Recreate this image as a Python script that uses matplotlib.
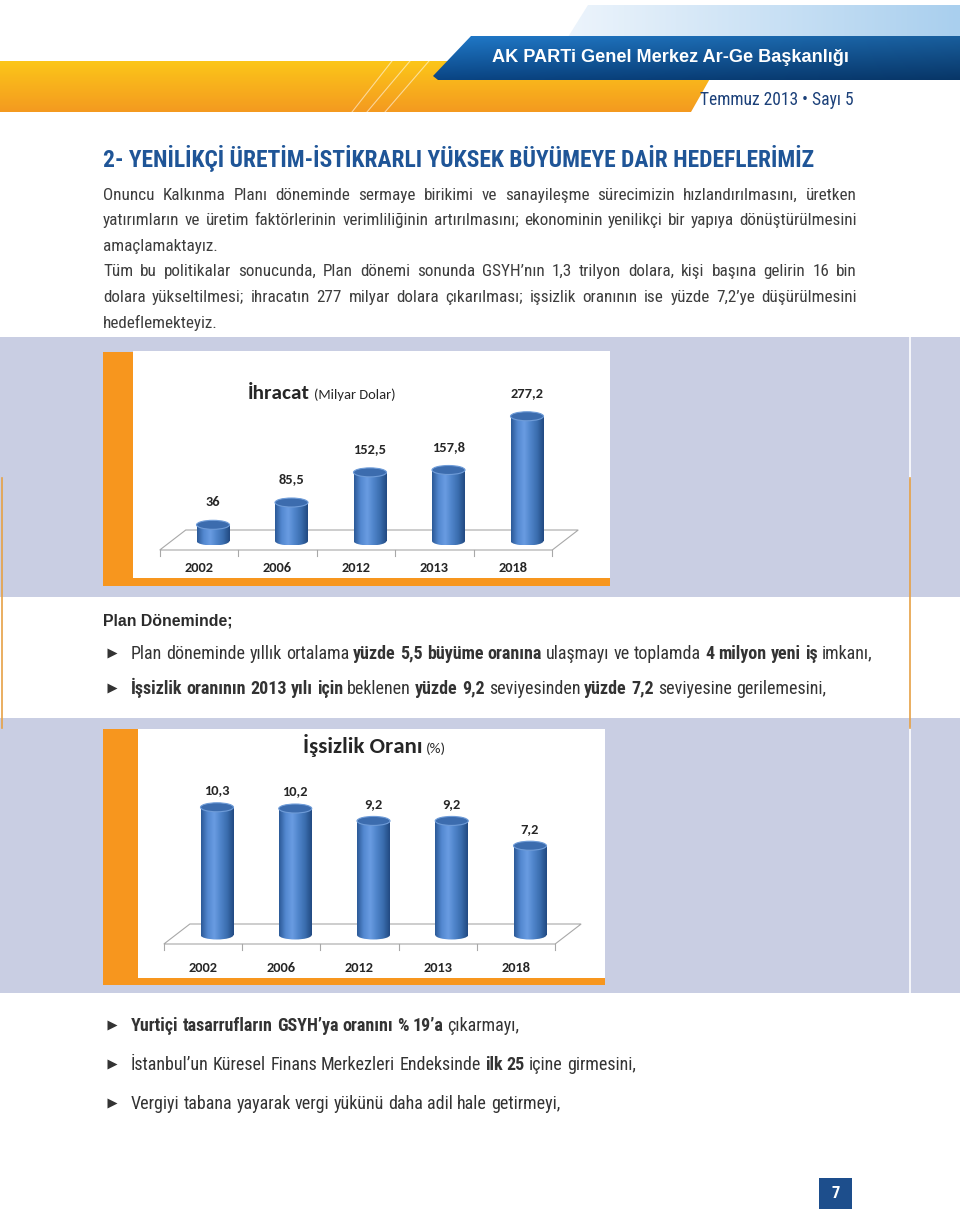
import math
import numpy as np
import matplotlib
matplotlib.use("Agg")
import matplotlib.pyplot as plt
from matplotlib.patches import Rectangle, Ellipse, Polygon
from matplotlib.colors import LinearSegmentedColormap, to_rgb

W, H = 960, 1213

# ---- data ----
years = ["2002", "2006", "2012", "2013", "2018"]
export_vals = [36, 85.5, 152.5, 157.8, 277.2]
unemp_vals = [10.3, 10.2, 9.2, 9.2, 7.2]

header_text = "AK PARTi Genel Merkez Ar-Ge Başkanlığı"
issue_text = "Temmuz 2013 • Sayı 5"
title_text = "2- YENİLİKÇİ ÜRETİM-İSTİKRARLI YÜKSEK BÜYÜMEYE DAİR HEDEFLERİMİZ"

body_lines = [
    ("Onuncu Kalkınma Planı döneminde sermaye birikimi ve sanayileşme sürecimizin hızlandırılmasını, üretken", True),
    ("yatırımların ve üretim faktörlerinin verimliliğinin artırılmasını; ekonominin yenilikçi bir yapıya dönüştürülmesini", True),
    ("amaçlamaktayız.", False),
    ("Tüm bu politikalar sonucunda, Plan dönemi sonunda GSYH’nın 1,3 trilyon dolara, kişi başına gelirin 16 bin", True),
    ("dolara yükseltilmesi; ihracatın 277 milyar dolara çıkarılması; işsizlik oranının ise yüzde 7,2’ye düşürülmesini", True),
    ("hedeflemekteyiz.", False),
]

bullets_mid = [
    [("Plan döneminde yıllık ortalama", False), ("yüzde 5,5 büyüme oranına", True),
     ("ulaşmayı ve toplamda", False), ("4 milyon yeni iş", True), ("imkanı,", False)],
    [("İşsizlik oranının 2013 yılı için", True), ("beklenen", False), ("yüzde 9,2", True),
     ("seviyesinden", False), ("yüzde 7,2", True), ("seviyesine gerilemesini,", False)],
]
bullets_low = [
    [("Yurtiçi tasarrufların GSYH’ya oranını % 19’a", True), ("çıkarmayı,", False)],
    [("İstanbul’un Küresel Finans Merkezleri Endeksinde", False), ("ilk 25", True),
     ("içine girmesini,", False)],
    [("Vergiyi tabana yayarak vergi yükünü daha adil hale getirmeyi,", False)],
]
bullet_ends = [833, 830, 535, 636, 562]

NARROW = ["Roboto Condensed", "Fira Sans Condensed", "DejaVu Sans"]
WIDE = ["Liberation Sans", "DejaVu Sans"]
CHART = ["Carlito", "Lato", "DejaVu Sans"]

LAVENDER = "#c9cee3"
ORANGE = "#f7961e"

fig = plt.figure(figsize=(W / 100, H / 100), dpi=100)
page = fig.add_axes([0, 0, 1, 1])
page.set_xlim(0, W)
page.set_ylim(H, 0)
page.axis("off")
renderer = fig.canvas.get_renderer()


def width_of(t):
    return t.get_window_extent(renderer).width


def fit_size(s, target, family, weight="normal"):
    t = page.text(0, -50, s, fontsize=10, family=family, weight=weight)
    w = width_of(t)
    t.remove()
    return 10 * target / w


def space_w(size, family):
    a = page.text(0, -50, "n n", fontsize=size, family=family)
    b = page.text(0, -50, "nn", fontsize=size, family=family)
    d = width_of(a) - width_of(b)
    a.remove()
    b.remove()
    return d


def tokens_of(runs):
    return [(w, bold) for txt, bold in runs for w in txt.split()]


def natural_width(runs, size, family):
    toks = tokens_of(runs)
    tot = 0
    for w, bold in toks:
        t = page.text(0, -50, w, fontsize=size, family=family, weight="bold" if bold else "normal")
        tot += width_of(t)
        t.remove()
    return tot + space_w(size, family) * (len(toks) - 1)


def snap_baseline(t, word, ybase):
    # keep every word on the same pixel baseline (Agg rounds each string by its own descent)
    h, d = renderer.get_text_width_height_descent(word, t.get_fontproperties(), ismath=False)[1:]
    t.set_y(ybase + math.floor(h) - math.floor(h - d) - d)


def words_line(x, y, runs, size, family, color, x_end=None):
    y = round(y)
    toks = tokens_of(runs)
    texts, ws = [], []
    for w, bold in toks:
        t = page.text(x, y, w, fontsize=size, family=family, color=color,
                      weight="bold" if bold else "normal", va="baseline", ha="left")
        snap_baseline(t, w, y)
        texts.append(t)
        ws.append(width_of(t))
    gap = space_w(size, family)
    if x_end is not None and len(toks) > 1:
        gap = (x_end - x - sum(ws)) / (len(toks) - 1)
    cx = x
    for t, w in zip(texts, ws):
        t.set_x(cx)
        cx += w + gap


def gradient_patch(poly, arr, extent, z):
    patch = Polygon(poly, closed=True, fc="none", ec="none", zorder=z)
    page.add_patch(patch)
    im = page.imshow(arr, extent=extent, aspect="auto", origin="upper",
                     interpolation="bilinear", zorder=z)
    im.set_clip_path(patch)


def lerp_rows(c1, c2, n):
    c1, c2 = np.array(to_rgb(c1)), np.array(to_rgb(c2))
    t = np.linspace(0, 1, n)[:, None]
    return c1 * (1 - t) + c2 * t


# ---- header bands ----
lb = lerp_rows("#eef5fc", "#a9cfee", 200)[None, :, :]
gradient_patch([(588, 5), (W, 5), (W, 37), (568, 37)], lb, (560, W, 37, 5), 1)

orng = lerp_rows("#fcc619", "#f49a20", 60)[:, None, :]
gradient_patch([(0, 61), (720, 61), (691, 112), (0, 112)], orng, (0, 720, 112, 61), 1)
for xb, xt in [(352, 392), (367, 410), (385, 429)]:
    page.plot([xb, xt], [112, 61], color="white", lw=0.8, alpha=0.55, zorder=2)

vert = lerp_rows("#2079c9", "#0a4584", 60)
shade = np.linspace(1.0, 0.78, 200)[None, :, None]
blue = np.clip(vert[:, None, :] * shade, 0, 1)
gradient_patch([(471, 36), (W, 36), (W, 80), (438, 80), (433, 76)], blue, (430, W, 80, 36), 3)

page.text(492, 58, header_text, fontsize=fit_size(header_text, 356, WIDE, "bold"),
          family=WIDE, weight="bold", color="white", va="center", zorder=5)
page.text(700, 100, issue_text, fontsize=fit_size(issue_text, 153, NARROW),
          family=NARROW, color="#1b4079", va="center", zorder=5)

# ---- title and body text ----
page.text(103, 159, title_text, fontsize=fit_size(title_text, 709, NARROW, "bold"),
          family=NARROW, weight="bold", color="#1f5597", va="center")

body_size = fit_size("hedeflemekteyiz.", 114, NARROW)
body_px = body_size * 100 / 72
for i, (line, just) in enumerate(body_lines):
    yc = 194 + 25.6 * i
    words_line(103, yc + 0.33 * body_px, [(line, False)], body_size, NARROW, "#3d3d3d",
               x_end=857 if just else None)

# ---- background bands ----
page.add_patch(Rectangle((0, 337), W, 260, fc=LAVENDER, ec="none", zorder=0))
page.add_patch(Rectangle((0, 718), W, 275, fc=LAVENDER, ec="none", zorder=0))
page.plot([910, 910], [337, 478], color="white", lw=1.2, zorder=1)
page.plot([910, 910], [728, 993], color="white", lw=1.2, zorder=1)
page.plot([910, 910], [478, 728], color="#e6a145", lw=1.2, zorder=1)
page.plot([1.5, 1.5], [478, 728], color="#e6a145", lw=1.2, zorder=1)

# chart frames
page.add_patch(Rectangle((103, 352), 507, 234, fc=ORANGE, ec="none", zorder=1))
page.add_patch(Rectangle((133, 351), 477, 227, fc="white", ec="none", zorder=1))
page.add_patch(Rectangle((103, 729), 502, 256, fc=ORANGE, ec="none", zorder=1))
page.add_patch(Rectangle((138, 729), 467, 249, fc="white", ec="none", zorder=1))

# ---- bullets ----
page.text(103, 621, "Plan Döneminde;", fontsize=fit_size("Plan Döneminde;", 130, WIDE, "bold"),
          family=WIDE, weight="bold", color="#2b2b2b", va="center")

all_bullets = bullets_mid + bullets_low
fits = [11.5 * (xe - 131) / natural_width(r, 11.5, NARROW) for r, xe in zip(all_bullets, bullet_ends)]
bul_size = float(np.median(fits))
bul_px = bul_size * 100 / 72
for yc, runs in zip([653, 688, 1025, 1064, 1103], all_bullets):
    page.plot(112, yc, marker=">", ms=7, color="#333333", mec="none", zorder=3)
    words_line(131, yc + 0.33 * bul_px, runs, bul_size, NARROW, "#333333")

# page number
page.add_patch(Rectangle((819, 1178), 33, 31, fc="#1d4e8c", ec="none", zorder=2))
page.text(835.5, 1194, "7", fontsize=12, family=NARROW, weight="bold", color="white",
          ha="center", va="center", zorder=3)

# ---- charts ----
body_cmap = LinearSegmentedColormap.from_list(
    "cyl", ["#2c5a98", "#5388d0", "#699ce2", "#4f84ca", "#3a6dae", "#224a82"])
grad = np.linspace(0, 1, 80)[None, :]

num_size = fit_size("2002", 29, CHART, "bold")


def cylinder(ax, xc, v, bw, eh):
    body = Rectangle((xc - bw / 2, 0), bw, v, fc="none", ec="none")
    ax.add_patch(body)
    im = ax.imshow(grad, cmap=body_cmap, extent=(xc - bw / 2, xc + bw / 2, 0, v),
                   aspect="auto", origin="lower", interpolation="bilinear", zorder=3)
    im.set_clip_path(body)
    bot = Ellipse((xc, 0), bw, eh, fc="none", ec="none")
    ax.add_patch(bot)
    im2 = ax.imshow(grad, cmap=body_cmap, extent=(xc - bw / 2, xc + bw / 2, -eh / 2, eh / 2),
                    aspect="auto", origin="lower", interpolation="bilinear", zorder=3)
    im2.set_clip_path(bot)
    ax.add_patch(Ellipse((xc, v), bw, eh, fc="#3c6cae", ec="#6f9cd8", lw=0.8, zorder=4))


def bar_chart(panel, x0px, step, base_px, ppu, values, lab_dy):
    L, T, R, B = panel
    ax = fig.add_axes([L / W, 1 - B / H, (R - L) / W, (B - T) / H])
    ax.axis("off")
    n = len(values)
    xs = np.arange(n)
    dx = -14 / step
    fy, by, bx = -9 / ppu, 11 / ppu, 26 / step
    floor = [(-0.5 + dx, fy), (n - 0.5 + dx, fy), (n - 0.5 + dx + bx, by), (-0.5 + dx + bx, by)]
    ax.add_patch(Polygon(floor, closed=True, fc="white", ec="#a8a8a8", lw=0.8, zorder=1))
    for k in range(n + 1):
        ax.plot([k - 0.5 + dx] * 2, [fy, fy - 6 / ppu], color="#a8a8a8", lw=0.8, zorder=1)
    for x, v in zip(xs, values):
        cylinder(ax, x, v, 33 / step, 9 / ppu)
        ax.annotate(f"{v:g}".replace(".", ","), (x, v), xytext=(0, lab_dy * 0.72),
                    textcoords="offset points", ha="center", va="center",
                    fontsize=num_size, family=CHART, weight="bold", color="#262626")
        ax.text(x + dx, -(B - 10 - base_px) / ppu, years[x], ha="center", va="center",
                fontsize=num_size, family=CHART, weight="bold", color="#262626")
    ax.set_xlim((L - x0px) / step, (R - x0px) / step)
    ax.set_ylim(-(B - base_px) / ppu, (base_px - T) / ppu)
    return ax


bar_chart((133, 351, 610, 578), 213, 78.5, 541, 0.45, export_vals, 23)
bar_chart((138, 729, 605, 978), 217, 78.25, 935, 12.4, unemp_vals, 17)

# chart titles
page.text(248, 399, "İhracat", fontsize=fit_size("İhracat", 62, CHART, "bold"),
          family=CHART, weight="bold", color="#262626", va="baseline", zorder=5)
page.text(314, 399, "(Milyar Dolar)", fontsize=fit_size("(Milyar Dolar)", 82, CHART),
          family=CHART, color="#262626", va="baseline", zorder=5)
page.text(303, 753, "İşsizlik Oranı", fontsize=fit_size("İşsizlik Oranı", 120, CHART, "bold"),
          family=CHART, weight="bold", color="#262626", va="baseline", zorder=5)
page.text(426, 753, "(%)", fontsize=fit_size("(%)", 20, CHART),
          family=CHART, color="#262626", va="baseline", zorder=5)

page.set_xlim(0, W)
page.set_ylim(H, 0)
fig.savefig("out.png", dpi=100)
